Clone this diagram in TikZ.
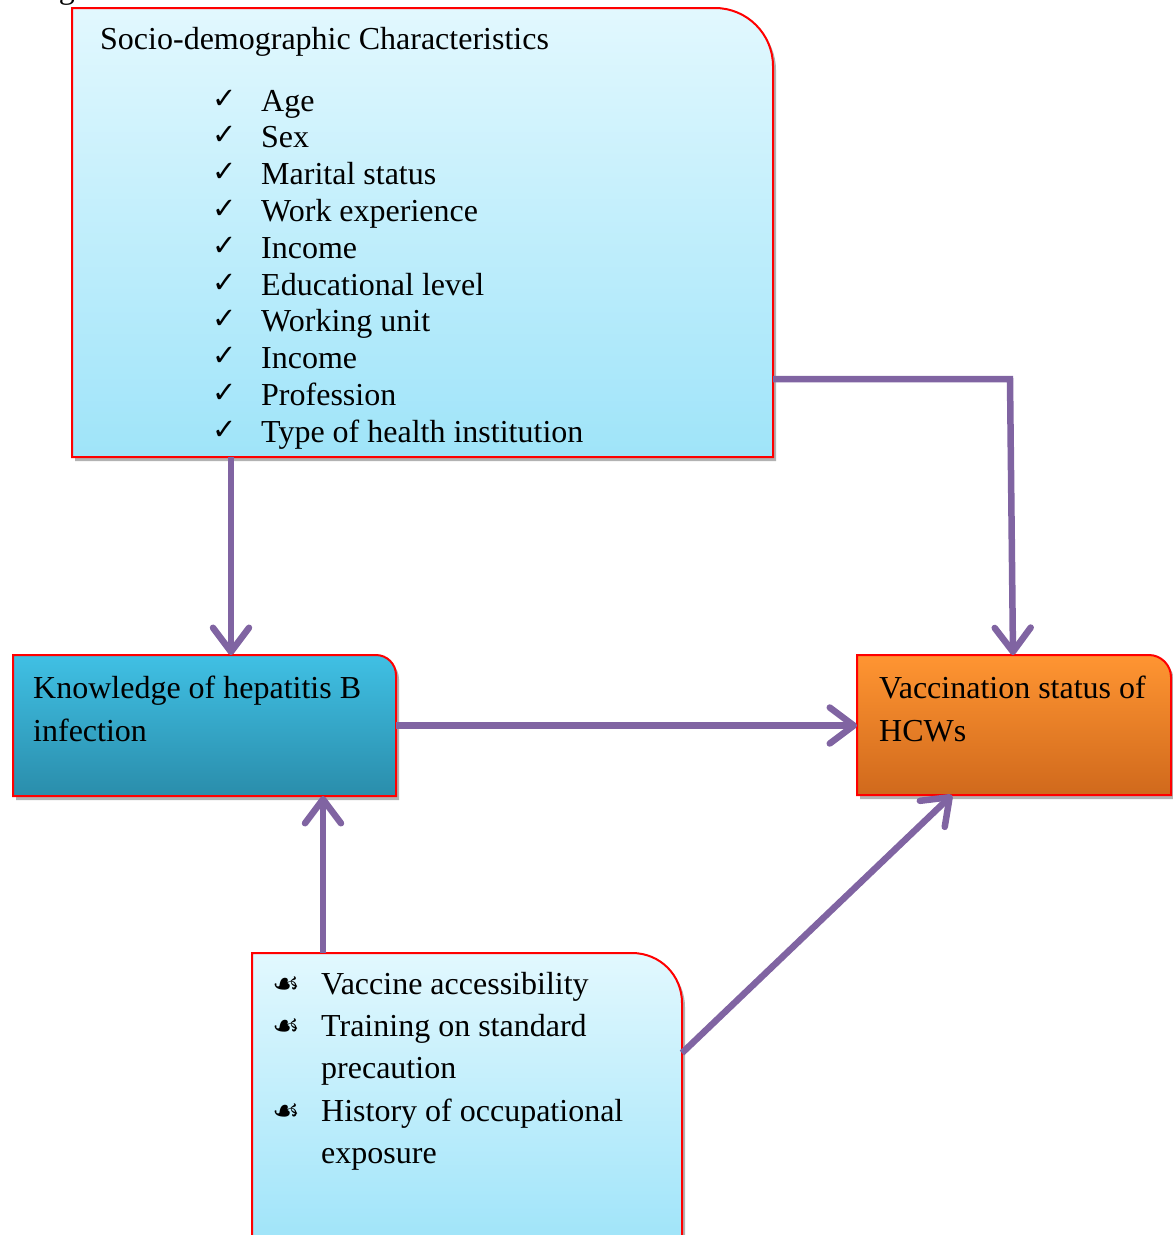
\documentclass[tikz,border=0pt]{standalone}
\usepackage{fontspec}
\setmainfont{Liberation Serif}
\newfontfamily\symfont{DejaVu Sans}
\usetikzlibrary{arrows.meta,shadows}
\definecolor{lightTop}{HTML}{E2F8FE}
\definecolor{lightBot}{HTML}{9FE4F9}
\definecolor{knowTop}{HTML}{40C0E4}
\definecolor{knowBot}{HTML}{2A8DAB}
\definecolor{vacTop}{HTML}{FF9532}
\definecolor{vacBot}{HTML}{D0691C}
\definecolor{arrPurple}{HTML}{8064A2}
\definecolor{boxRed}{HTML}{FF0000}
\tikzset{
  area/.style={draw=none, inner sep=0pt, outer sep=0pt, rectangle},
  boxline/.style={draw=boxRed, line width=2pt,
    drop shadow={shadow xshift=3pt, shadow yshift=-4pt, opacity=0.3, fill=black}},
  arr/.style={draw=arrPurple, line width=6.5pt,
    -{Straight Barb[length=24pt,width=36pt,round]}},
  txt/.style={anchor=base west, inner sep=0pt, font=\fontsize{32}{36}\selectfont},
  chk/.style={anchor=base west, inner sep=0pt, font=\symfont\fontsize{29}{32}\selectfont},
  blt/.style={anchor=base west, inner sep=0pt, font=\symfont\fontsize{31}{34}\selectfont},
}
\begin{document}
\begin{tikzpicture}[x=1pt,y=-1pt]
\useasboundingbox (0,0) rectangle (1173,1235);
% partially visible caption above the figure
\node[txt] (cap) at (32,-2) {Fig};

% invisible named areas
\node[area, minimum width=701pt, minimum height=449pt] (soc) at (422.5,232.5) {};
\node[area, minimum width=383pt, minimum height=141pt] (know) at (204.5,725.5) {};
\node[area, minimum width=314pt, minimum height=140pt] (vacc) at (1014,725) {};
\node[area, minimum width=430pt, minimum height=287pt] (bot) at (467,1096.5) {};

% box shapes
\path[boxline, top color=lightTop, bottom color=lightBot]
  (72,457) -- (72,8) -- (715,8) .. controls (747,8) and (773,34) .. (773,66) -- (773,457) -- cycle;
\path[boxline, top color=knowTop, bottom color=knowBot]
  (13,796) -- (13,655) -- (376,655) .. controls (387,655) and (396,664) .. (396,675) -- (396,796) -- cycle;
\path[boxline, top color=vacTop, bottom color=vacBot]
  (857,795) -- (857,655) -- (1149,655) .. controls (1161,655) and (1171,665) .. (1171,677) -- (1171,795) -- cycle;
\path[boxline, top color=lightTop, bottom color=lightBot]
  (252,1245) -- (252,953) -- (632,953) .. controls (660,953) and (682,975) .. (682,1003) -- (682,1245) -- cycle;

% top box text
\node[txt] (head) at (100,49) {Socio-demographic Characteristics};
\foreach \t [count=\i from 0] in {Age,Sex,Marital status,Work experience,Income,Educational level,Working unit,Income,Profession,Type of health institution}{
  \node[chk] (c\i) at (212,{108+36.8*\i}) {✓};
  \node[txt] (t\i) at (261,{111+36.8*\i}) {\t};
}

% knowledge text
\node[txt] (k1) at (33,698) {Knowledge of hepatitis B};
\node[txt] (k2) at (33,741) {infection};
% vaccination text
\node[txt] (v1) at (879,698) {Vaccination status of};
\node[txt] (v2) at (879,741) {HCWs};

% bottom text
\node[blt] (b1) at (272,994) {☙};
\node[txt] (bt1) at (321,994) {Vaccine accessibility};
\node[blt] (b2) at (272,1036) {☙};
\node[txt] (bt2) at (321,1036) {Training on standard};
\node[txt] (bt3) at (321,1078) {precaution};
\node[blt] (b3) at (272,1121) {☙};
\node[txt] (bt4) at (321,1121) {History of occupational};
\node[txt] (bt5) at (321,1163) {exposure};

% connectors
\draw[arr] (231,0 |- soc.south) -- (231,0 |- know.north);
\draw[arr] (soc.east |- 0,379) -- (1010,379) -- (1013,0 |- vacc.north);
\draw[arr] (know.east) -- (know.east -| vacc.west);
\draw[arr] (323,0 |- bot.north) -- (323,0 |- know.south);
\draw[arr] (bot.east |- 0,1053) -- (952,0 |- vacc.south);
\end{tikzpicture}
\end{document}
